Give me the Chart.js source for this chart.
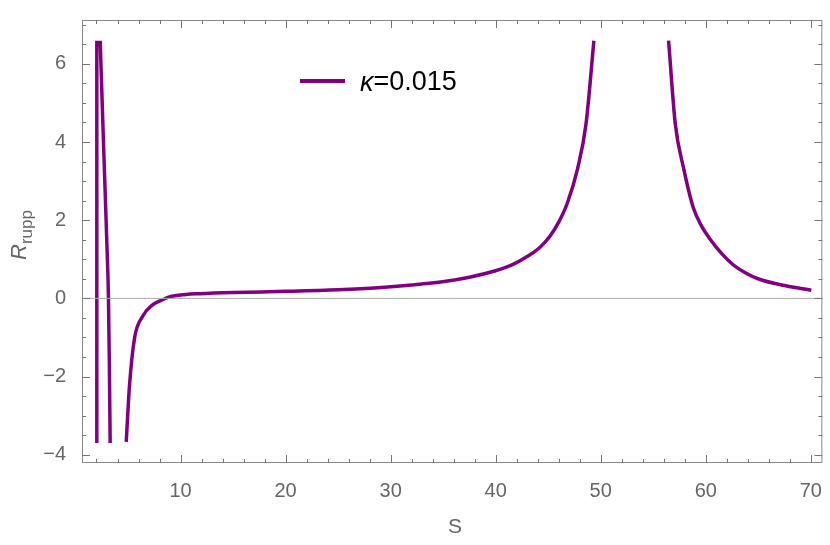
<!DOCTYPE html>
<html>
<head>
<meta charset="utf-8">
<script src="https://cdn.jsdelivr.net/npm/chart.js@4"></script>
<style>
  body { margin: 0; background: #fff; }
  #wrap { width: 830px; height: 545px; }
</style>
</head>
<body>
<div id="wrap"><canvas id="c"></canvas></div>
<script>
// S values and R_rupp values (null = break between branches)
const sVals = [2.03, 2.03, null, 2.35, 2.7, 3.0, 3.14, 3.22, 3.3, null,
  4.83, 5.14, 5.62, 6.41, 7.37, 8.0, 8.95, 10.5, 11.8, 15, 20, 25, 28.8, 32, 35.1,
  37.5, 39.9, 41.5, 43.0, 44.2, 45.2, 46.0, 46.8, 47.8, 48.6, 49.35, null,
  56.46, 57.1, 57.9, 58.8, 59.6, 60.4, 61.5, 62.6, 63.8, 65.1, 67.5, 70.05];
const rVals = [6.59, -3.7, null, 6.59, 3.7, 1.3, 0, -1.6, -3.7, null,
  -3.67, -2.24, -1.02, -0.45, -0.16, -0.07, 0.04, 0.10, 0.12, 0.15, 0.18, 0.22, 0.27, 0.34, 0.43,
  0.54, 0.70, 0.85, 1.07, 1.30, 1.60, 1.95, 2.42, 3.32, 4.46, 6.59, null,
  6.59, 4.46, 3.32, 2.33, 1.85, 1.52, 1.15, 0.86, 0.65, 0.49, 0.33, 0.21];
const xTicks = [10, 20, 30, 40, 50, 60, 70];
const yTicks = [-4, -2, 0, 2, 4, 6];
const legendText = "0.015";

const purple = "#800080";
const tickGray = "#666";

const framePlugin = {
  id: "frame",
  afterDraw(chart) {
    const { ctx, chartArea: a, scales: { x, y } } = chart;
    ctx.save();
    // zero line
    ctx.strokeStyle = "#aaa"; ctx.lineWidth = 1;
    ctx.beginPath(); ctx.moveTo(a.left, y.getPixelForValue(0)); ctx.lineTo(a.right, y.getPixelForValue(0)); ctx.stroke();
    // frame
    ctx.strokeStyle = "#888";
    ctx.strokeRect(a.left + 0.5, a.top + 0.5, a.width - 1, a.height - 1);
    // ticks
    ctx.strokeStyle = "#777";
    ctx.beginPath();
    for (let v = 2; v <= 70; v += 2) {
      const px = Math.round(x.getPixelForValue(v)) + 0.5;
      const len = v % 10 === 0 ? 8 : 4;
      ctx.moveTo(px, a.bottom); ctx.lineTo(px, a.bottom - len);
      ctx.moveTo(px, a.top); ctx.lineTo(px, a.top + len);
    }
    for (let v = -4; v <= 7; v += 0.5) {
      const py = Math.round(y.getPixelForValue(v)) + 0.5;
      const len = v % 2 === 0 ? 8 : 4;
      ctx.moveTo(a.left, py); ctx.lineTo(a.left + len, py);
      ctx.moveTo(a.right, py); ctx.lineTo(a.right - len, py);
    }
    ctx.stroke();
    // legend
    ctx.strokeStyle = purple; ctx.lineWidth = 4;
    ctx.beginPath(); ctx.moveTo(300, 81); ctx.lineTo(345, 81); ctx.stroke();
    ctx.fillStyle = "#000"; ctx.textBaseline = "middle";
    ctx.font = "italic 27px 'Liberation Sans'";
    ctx.fillText("κ", 360, 83);
    const kw = ctx.measureText("κ").width;
    ctx.font = "27px 'Liberation Sans'";
    ctx.fillText("=" + legendText, 360 + kw, 83);
    // axis labels
    ctx.fillStyle = tickGray;
    ctx.font = "21px 'Liberation Sans'";
    ctx.textAlign = "center";
    ctx.fillText("S", 455, 527);
    ctx.translate(20, 260);
    ctx.rotate(-Math.PI / 2);
    ctx.textAlign = "left";
    ctx.font = "italic 22px 'Liberation Sans'";
    ctx.fillText("R", 0, 0);
    const rw = ctx.measureText("R").width;
    ctx.font = "17px 'Liberation Sans'";
    ctx.fillText("rupp", rw, 7);
    ctx.restore();
  }
};

new Chart(document.getElementById("c"), {
  type: "line",
  data: {
    labels: sVals,
    datasets: [{
      data: sVals.map((s, i) => (s === null ? { x: NaN, y: null } : { x: s, y: rVals[i] })),
      borderColor: purple,
      borderWidth: 3.5,
      pointRadius: 0,
      cubicInterpolationMode: "monotone",
      spanGaps: false
    }]
  },
  options: {
    responsive: true,
    maintainAspectRatio: false,
    animation: false,
    layout: { padding: { top: -14, right: 4, left: 0, bottom: 0 } },
    plugins: { legend: { display: false }, tooltip: { enabled: false } },
    scales: {
      x: {
        type: "linear", min: 0.62, max: 71.1,
        grid: { display: false }, border: { display: false },
        afterBuildTicks: s => { s.ticks = xTicks.map(v => ({ value: v })); },
        afterFit: s => { s.height = 82; },
        ticks: { color: tickGray, font: { size: 20, family: "Liberation Sans" }, padding: 8, maxRotation: 0 }
      },
      y: {
        min: -4.21, max: 7.12,
        grid: { display: false }, border: { display: false },
        afterBuildTicks: s => { s.ticks = yTicks.map(v => ({ value: v })); },
        afterFit: s => { s.width = 82; },
        ticks: { color: tickGray, font: { size: 20, family: "Liberation Sans" }, padding: 8,
          callback: v => String(v).replace("-", "\u2212") }
      }
    }
  },
  plugins: [framePlugin]
});
</script>
</body>
</html>
